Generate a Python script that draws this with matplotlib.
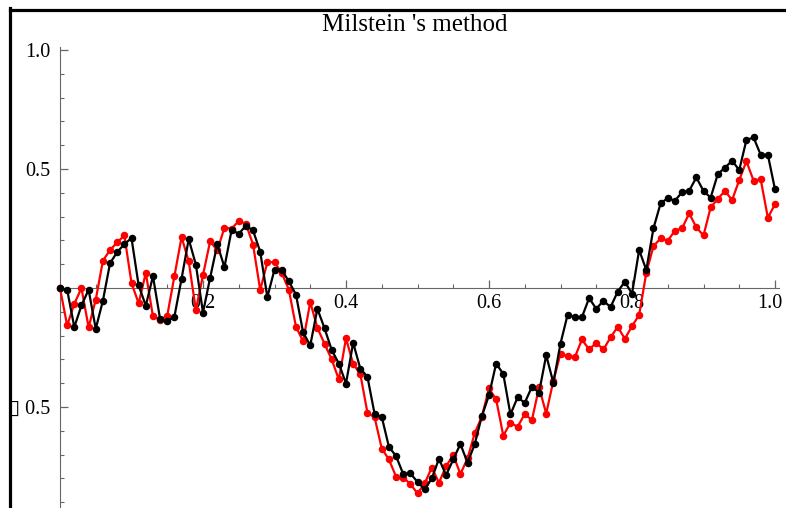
import numpy as np
import matplotlib
matplotlib.use("Agg")
import matplotlib.pyplot as plt
import matplotlib.transforms as mtransforms
from matplotlib.lines import Line2D
from matplotlib.ticker import MultipleLocator

plt.rcParams['font.family'] = ['Liberation Serif', 'DejaVu Sans']

# time grid, dt = 0.01
t = np.linspace(0.0, 1.0, 101)

# black path
exact = [
    0.000, -0.007, -0.164, -0.073, -0.007, -0.171, -0.053, 0.105, 0.151, 0.185,
    0.210, 0.011, -0.074, 0.050, -0.130, -0.140, -0.120, 0.039, 0.206, 0.099,
    -0.103, 0.044, 0.184, 0.088, 0.244, 0.228, 0.262, 0.242, 0.153, -0.038,
    0.078, 0.076, 0.029, -0.027, -0.186, -0.241, -0.087, -0.169, -0.260, -0.317,
    -0.401, -0.230, -0.338, -0.373, -0.529, -0.541, -0.667, -0.706, -0.781, -0.779,
    -0.814, -0.846, -0.800, -0.717, -0.786, -0.720, -0.655, -0.734, -0.656, -0.538,
    -0.450, -0.317, -0.361, -0.531, -0.459, -0.482, -0.415, -0.439, -0.282, -0.398,
    -0.233, -0.111, -0.122, -0.122, -0.042, -0.087, -0.053, -0.080, -0.015, 0.027,
    -0.024, 0.160, 0.076, 0.251, 0.356, 0.378, 0.367, 0.403, 0.409, 0.465,
    0.408, 0.380, 0.479, 0.506, 0.535, 0.496, 0.622, 0.633, 0.560, 0.560,
    0.415,
]

# red path (Milstein approximation)
milstein = [
    0.000, -0.157, -0.066, 0.000, -0.165, -0.049, 0.115, 0.160, 0.192, 0.221,
    0.021, -0.064, 0.064, -0.119, -0.133, -0.116, 0.050, 0.214, 0.113, -0.092,
    0.055, 0.197, 0.158, 0.254, 0.250, 0.282, 0.270, 0.183, -0.008, 0.109,
    0.109, 0.064, -0.006, -0.162, -0.224, -0.059, -0.167, -0.234, -0.300, -0.384,
    -0.211, -0.319, -0.361, -0.524, -0.543, -0.674, -0.720, -0.792, -0.796, -0.823,
    -0.863, -0.821, -0.754, -0.818, -0.748, -0.702, -0.781, -0.716, -0.610, -0.540,
    -0.421, -0.468, -0.620, -0.566, -0.583, -0.529, -0.555, -0.417, -0.527, -0.390,
    -0.275, -0.286, -0.291, -0.216, -0.258, -0.230, -0.258, -0.207, -0.163, -0.213,
    -0.160, -0.113, 0.064, 0.176, 0.209, 0.199, 0.241, 0.251, 0.314, 0.255,
    0.221, 0.339, 0.375, 0.408, 0.370, 0.454, 0.533, 0.452, 0.457, 0.296,
    0.352,
]

x_major = [0.2, 0.4, 0.6, 0.8, 1.0]
x_labels = ['0.2', '0.4', '0.6', '0.8', '1.0']
y_major = [-0.5, 0.5, 1.0]
y_labels = ['\u25af 0.5', '0.5', '1.0']

W, H = 786, 508
fig = plt.figure(figsize=(W / 100, H / 100), dpi=100)
ax = fig.add_axes([60 / W, 0, 715 / W, (H - 47) / H])
ax.set_xlim(0, 1)
ax.set_ylim(-0.924, 1.013)

axis_col = '#666666'
for side in ['top', 'right']:
    ax.spines[side].set_visible(False)
ax.spines['left'].set_position(('data', 0))
ax.spines['bottom'].set_position(('data', 0))
ax.spines['left'].set_color(axis_col)
ax.spines['bottom'].set_color(axis_col)
ax.spines['bottom'].set_bounds(0, 1.005)

ax.set_xticks(x_major)
ax.set_xticklabels(x_labels)
ax.xaxis.set_minor_locator(MultipleLocator(0.05))
ax.set_yticks(y_major)
ax.set_yticklabels(y_labels)
ax.yaxis.set_minor_locator(MultipleLocator(0.1))
ax.tick_params(which='both', direction='in', colors=axis_col, labelcolor='black',
               labelsize=14.5)
ax.tick_params(which='major', length=5.5, width=0.9)
ax.tick_params(which='minor', length=3, width=0.8)
ax.tick_params(axis='x', pad=4)
ax.tick_params(axis='y', pad=7)

# last x label sits a bit left so it stays inside the picture
last = ax.get_xticklabels()[-1]
last.set_transform(last.get_transform() +
                   mtransforms.ScaledTranslation(-5 / 100, 0, fig.dpi_scale_trans))

ax.plot(t, milstein, color='#ff0000', lw=1.6, marker='o', ms=4.4, clip_on=False, zorder=3)
ax.plot(t, exact, color='black', lw=1.6, marker='o', ms=4.4, clip_on=False, zorder=4)

fig.text(415 / W, 1 - 25 / H, "Milstein 's method", ha='center', va='center', fontsize=18)

# frame of the original panel
fig.add_artist(Line2D([9.5 / W, 1], [1 - 9.5 / H, 1 - 9.5 / H], color='black', lw=2.3,
                      transform=fig.transFigure))
fig.add_artist(Line2D([9.5 / W, 9.5 / W], [0, 1 - 8 / H], color='black', lw=2.3,
                      transform=fig.transFigure))

fig.savefig('out.png', dpi=100)
